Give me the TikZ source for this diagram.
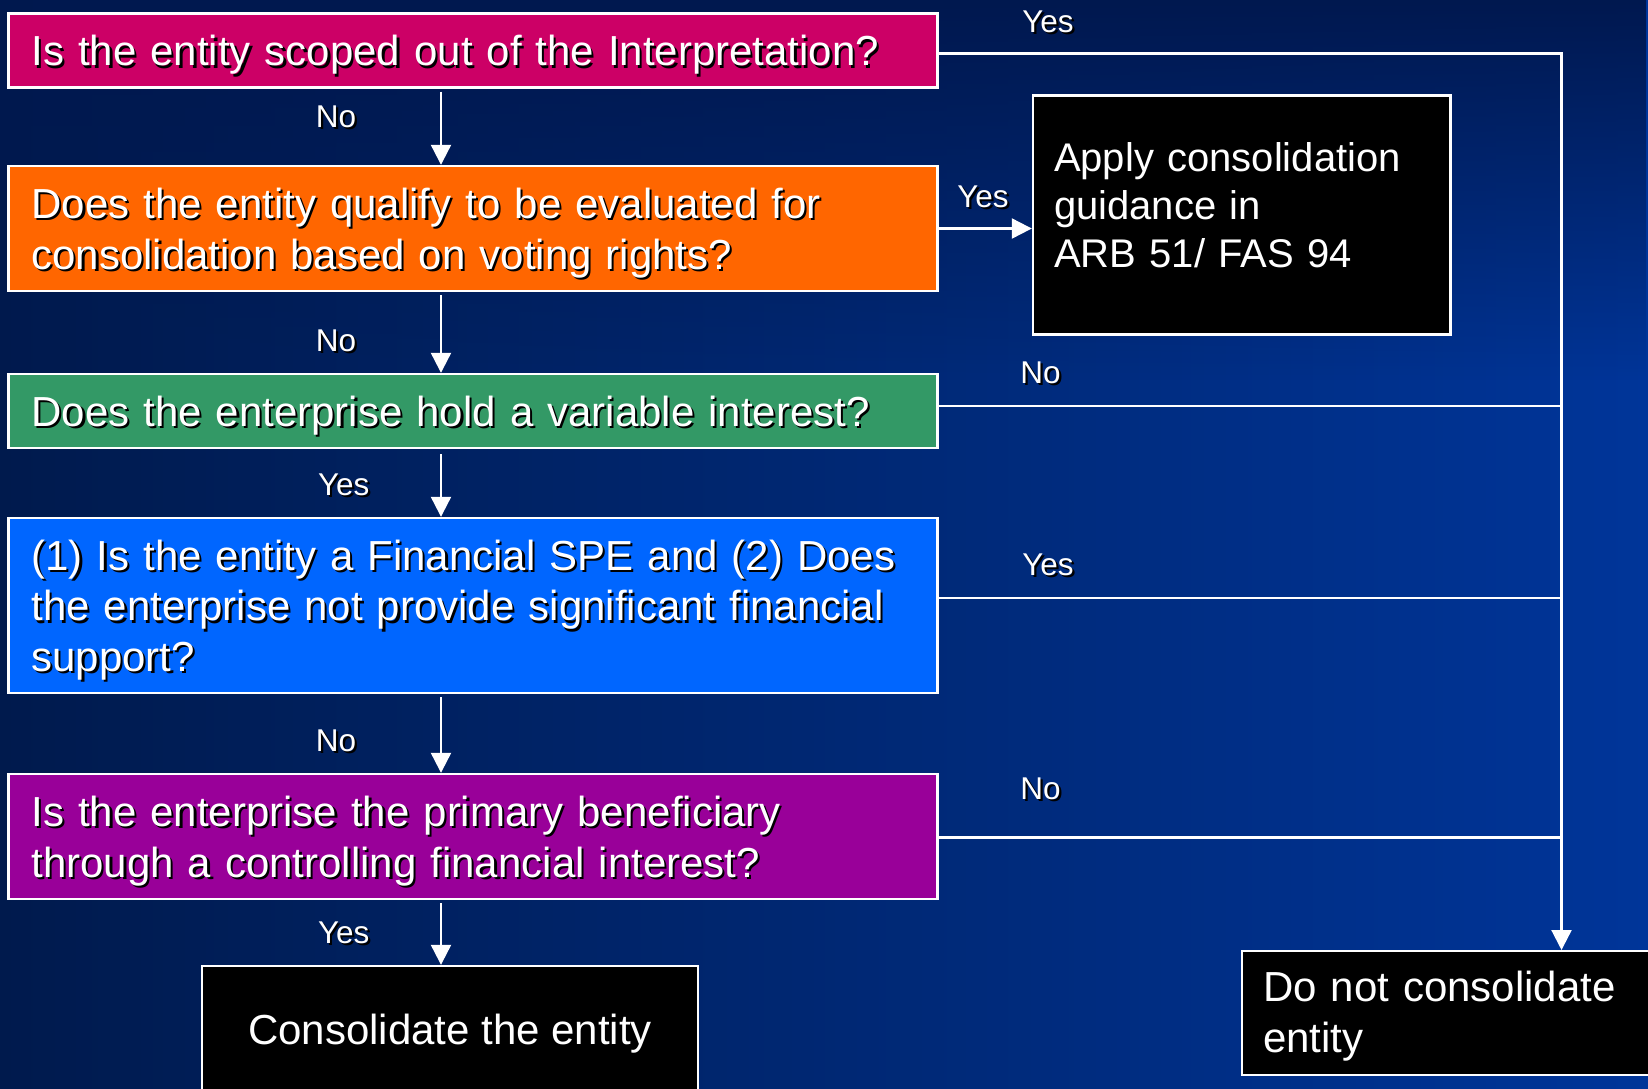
\documentclass[tikz,border=0pt]{standalone}
\usepackage{fontspec}
\setmainfont{Liberation Sans}
\usetikzlibrary{arrows.meta,fadings}
\definecolor{bgL}{HTML}{001A4D}
\definecolor{bgR}{HTML}{003599}
\definecolor{bgT}{HTML}{00184F}
\definecolor{cMag}{HTML}{CC0066}
\definecolor{cOra}{HTML}{FF6600}
\definecolor{cGre}{HTML}{339966}
\definecolor{cBlu}{HTML}{0066FF}
\definecolor{cPur}{HTML}{990099}
\newcommand\shd[1]{\leavevmode\rlap{\kern1.1pt\raisebox{-1.1pt}{\color{black}#1}}#1}
\newcommand\tup[1]{\rule{0pt}{#1}}
\tikzset{
  qbox/.style={draw=white, line width=1.2pt, text=white, text width=441.5pt,
    inner xsep=11.5pt, inner ysep=0pt, align=left,
    font=\fontsize{21pt}{25.2pt}\selectfont},
  bbox/.style={draw=white, fill=black, line width=1.2pt, text=white, inner ysep=0pt,
    font=\fontsize{21pt}{25.2pt}\selectfont},
  lbl/.style={text=white, inner sep=0pt, font=\fontsize{15.75pt}{19pt}\selectfont},
  ln/.style={white, line width=1.1pt},
  arr/.style={white, line width=1.1pt, -{Triangle[width=10pt,length=10pt]}},
}
\begin{document}
\begin{tikzpicture}[x=0.5pt,y=-0.5pt]
\useasboundingbox (0,0) rectangle (1648,1088);
\clip (0,0) rectangle (1648,1088);
\shade[left color=bgL, right color=bgR] (0,0) rectangle (1648,1088);
\fill[bgT, path fading=south] (0,0) rectangle (1648,380);

% question boxes
\node[qbox, fill=cMag, minimum height=37pt] (b1) at (473,50.5)
  {\tup{20.8pt}\shd{Is the entity scoped out of the Interpretation?}};
\node[qbox, fill=cOra, minimum height=62.5pt] (b2) at (473,228.5)
  {\tup{20.8pt}\shd{Does the entity qualify to be evaluated for}\\\shd{consolidation based on voting rights?}};
\node[qbox, fill=cGre, minimum height=37pt] (b3) at (473,411)
  {\tup{20.8pt}\shd{Does the enterprise hold a variable interest?}};
\node[qbox, fill=cBlu, minimum height=87.5pt] (b4) at (473,605.5)
  {\tup{20.8pt}\shd{(1) Is the entity a Financial SPE and (2) Does}\\\shd{the enterprise not provide significant financial}\\\shd{support?}};
\node[qbox, fill=cPur, minimum height=62.5pt] (b5) at (473,836.5)
  {\tup{20.8pt}\shd{Is the enterprise the primary beneficiary}\\\shd{through a controlling financial interest?}};

% outcome boxes
\node[bbox, minimum height=119.5pt, text width=187.75pt, inner xsep=10.5pt, align=left,
      font=\fontsize{20pt}{24pt}\selectfont] (arb) at (1241.75,215)
  {Apply consolidation\\guidance in\\ARB 51/ FAS 94\rule[-10pt]{0pt}{10pt}};
\node[bbox, minimum width=248pt, minimum height=63pt, align=center] (cons) at (450,1029)
  {\tup{19.5pt}Consolidate the entity};
\node[bbox, anchor=north west, minimum height=62pt, text width=209pt, inner xsep=10.5pt, align=left] (dn) at (1241,950)
  {\tup{18.3pt}Do not consolidate\\entity};

% helper coordinates
\coordinate (cx) at (441,0);
\coordinate (jr) at (1561.5,53.6);
\coordinate (e1) at ([yshift=-1.5pt]b1.east);
\coordinate (e3) at ([yshift=2.65pt]b3.east);
\coordinate (e4) at ([yshift=3.75pt]b4.east);
\coordinate (e5) at ([yshift=-0.5pt]b5.east);

% main column
\draw[arr, shorten <=1.5pt] (b1.south -| cx) -- (b2.north -| cx);
\draw[arr, shorten <=1.5pt] (b2.south -| cx) -- (b3.north -| cx);
\draw[arr, shorten <=2.5pt] (b3.south -| cx) -- (b4.north -| cx);
\draw[arr, shorten <=1.5pt] (b4.south -| cx) -- (b5.north -| cx);
\draw[arr, shorten <=1.5pt] (b5.south -| cx) -- (cons.north -| cx);
\draw[arr] (b2.east) -- (b2.east -| arb.west);

% right column
\draw[arr] (e1) -- (e1 -| jr) -- (jr |- dn.north);
\draw[ln] (e3) -- (e3 -| jr);
\draw[ln] (e4) -- (e4 -| jr);
\draw[ln] (e5) -- (e5 -| jr);

% labels
\node[lbl] (y1) at (1048,22.5) {\shd{Yes}};
\node[lbl] (n1) at (336,118) {\shd{No}};
\node[lbl] (y2) at (983,198) {\shd{Yes}};
\node[lbl] (n2) at (336,342) {\shd{No}};
\node[lbl] (n3) at (1040.5,373.5) {\shd{No}};
\node[lbl] (y3) at (343.7,486) {\shd{Yes}};
\node[lbl] (y4) at (1048,565.5) {\shd{Yes}};
\node[lbl] (n4) at (336,741.5) {\shd{No}};
\node[lbl] (n5) at (1040.5,789.5) {\shd{No}};
\node[lbl] (y5) at (343.7,933.5) {\shd{Yes}};
\end{tikzpicture}
\end{document}
